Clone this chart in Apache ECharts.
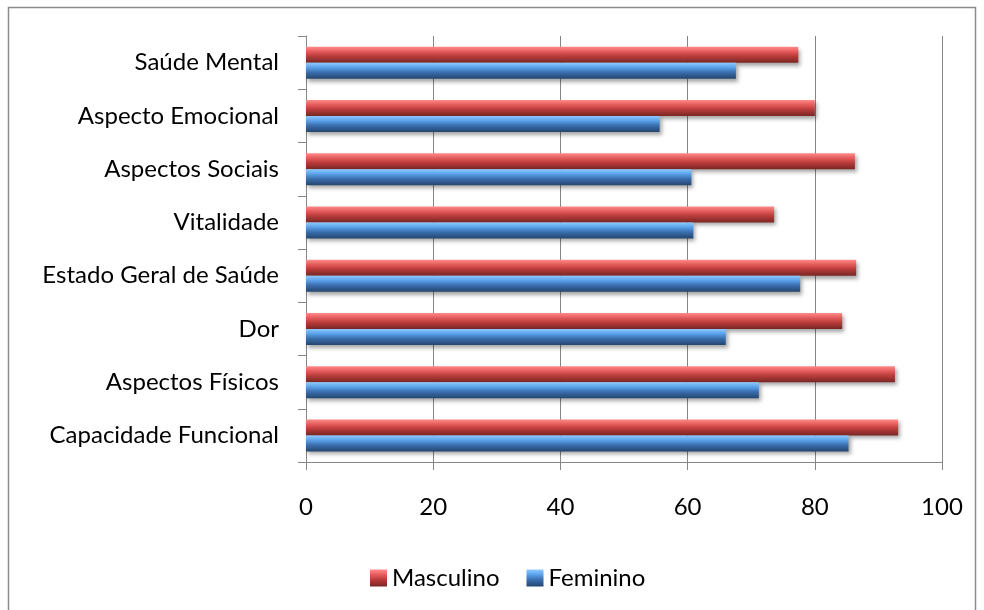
<!DOCTYPE html>
<html>
<head>
<meta charset="utf-8">
<script src="https://cdn.jsdelivr.net/npm/echarts@6/dist/echarts.min.js"></script>
<style>
html,body{margin:0;padding:0;background:#fff;}
#chart{width:984px;height:610px;}
</style>
</head>
<body>
<div id="chart"></div>
<script>
const categories = ['Capacidade Funcional','Aspectos Físicos','Dor','Estado Geral de Saúde','Vitalidade','Aspectos Sociais','Aspecto Emocional','Saúde Mental'];
const seriesNames = ['Masculino','Feminino'];
const masculino = [93.1, 92.6, 84.3, 86.5, 73.6, 86.3, 80.0, 77.4];
const feminino = [85.3, 71.2, 66.0, 77.7, 60.9, 60.6, 55.6, 67.6];
const xTicks = [0, 20, 40, 60, 80, 100];

const FONT = 'Lato, "Open Sans", "Liberation Sans", sans-serif';
const grad = (c1, c2, c3, c4) => new echarts.graphic.LinearGradient(0, 0, 0, 1, [
  {offset: 0, color: c1}, {offset: 0.3, color: c2}, {offset: 0.6, color: c3}, {offset: 1, color: c4}
]);
const redGrad = grad('#ff8c8c', '#e65c5c', '#b83c3a', '#7a2624');
const blueGrad = grad('#8fcaff', '#5aa2ea', '#3a6fb0', '#25466f');

const chart = echarts.init(document.getElementById('chart'), null, {renderer: 'canvas'});
chart.setOption({
  animation: false,
  backgroundColor: '#ffffff',
  textStyle: {fontFamily: FONT},
  graphic: [{
    type: 'rect',
    shape: {x: 8.5, y: 7.5, width: 967, height: 620},
    style: {fill: 'none', stroke: '#8c8c8c', lineWidth: 1.5},
    silent: true
  }],
  grid: {left: 306, right: 42, top: 36, bottom: 148, containLabel: false},
  legend: {
    data: seriesNames,
    top: 561,
    left: 365,
    icon: 'rect',
    itemWidth: 17,
    itemHeight: 17,
    itemGap: 27,
    textStyle: {fontFamily: FONT, fontSize: 24, color: '#000'}
  },
  xAxis: {
    type: 'value',
    min: xTicks[0],
    max: xTicks[xTicks.length - 1],
    interval: 20,
    axisLine: {show: true, lineStyle: {color: '#868686', width: 1}},
    axisTick: {show: true, length: 8, lineStyle: {color: '#868686'}},
    splitLine: {show: true, lineStyle: {color: '#868686', width: 1}},
    axisLabel: {fontFamily: FONT, fontSize: 24, color: '#000', margin: 33}
  },
  yAxis: {
    type: 'category',
    data: categories,
    axisLine: {show: true, lineStyle: {color: '#868686', width: 1}},
    axisTick: {show: true, length: 8, alignWithLabel: false, lineStyle: {color: '#868686'}},
    splitLine: {show: false},
    axisLabel: {fontFamily: FONT, fontSize: 24, color: '#000', margin: 27}
  },
  series: [
    {
      name: seriesNames[0],
      type: 'bar',
      data: masculino,
      barWidth: 16,
      barGap: '0%',
      itemStyle: {color: redGrad, shadowColor: 'rgba(0,0,0,0.35)', shadowBlur: 4, shadowOffsetX: 2, shadowOffsetY: 3}
    },
    {
      name: seriesNames[1],
      type: 'bar',
      data: feminino,
      barWidth: 16,
      barGap: '0%',
      itemStyle: {color: blueGrad, shadowColor: 'rgba(0,0,0,0.35)', shadowBlur: 4, shadowOffsetX: 2, shadowOffsetY: 3}
    }
  ]
});
</script>
</body>
</html>
